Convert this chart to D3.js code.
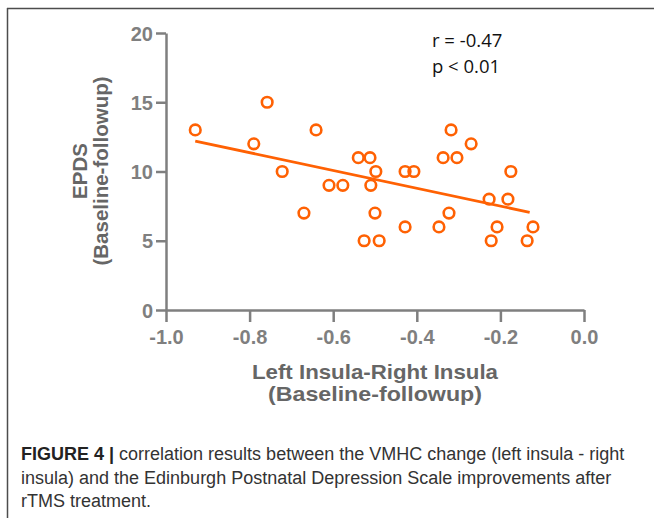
<!DOCTYPE html>
<html>
<head>
<meta charset="utf-8">
<script src="https://cdn.jsdelivr.net/npm/d3@7"></script>
<style>
  html, body { margin: 0; padding: 0; background: #fff; }
  svg { display: block; }
</style>
</head>
<body>
<div id="chart"></div>
<script>
// Scatter of insula VMHC change vs EPDS improvement, with fitted line
(function () {
  "use strict";

  // Data
  const insulaChange = [-0.93, -0.79, -0.758, -0.722, -0.641, -0.67, -0.61, -0.577, -0.54, -0.512,
    -0.498, -0.51, -0.5, -0.526, -0.49, -0.428, -0.428, -0.407, -0.347, -0.337,
    -0.323, -0.318, -0.304, -0.27, -0.227, -0.222, -0.208, -0.182, -0.175, -0.136, -0.122];
  const epdsChange = [13, 12, 15, 10, 13, 7, 9, 9, 11, 11,
    10, 9, 7, 5, 5, 6, 10, 10, 6, 11,
    7, 13, 11, 12, 8, 5, 6, 8, 10, 5, 6];

  // Fitted line end points
  const fitX = [-0.93, -0.13];
  const fitY = [12.2, 7.05];

  const xTicks = [-1.0, -0.8, -0.6, -0.4, -0.2, 0.0];
  const yTicks = [0, 5, 10, 15, 20];
  const statLines = ["r = -0.47", "p < 0.01"];

  const width = 654;
  const height = 518;
  const orange = "#ff6103";
  const axisGray = "#7f7f7f";
  const titleGray = "#666666";

  const svg = d3.select("#chart").append("svg")
    .attr("width", width)
    .attr("height", height);

  // Figure frame (top and left rules)
  svg.append("line").attr("x1", 7).attr("x2", width).attr("y1", 8.5).attr("y2", 8.5)
    .attr("stroke", "#4d4d4d").attr("stroke-width", 1.5);
  svg.append("line").attr("x1", 7.5).attr("x2", 7.5).attr("y1", 8).attr("y2", height)
    .attr("stroke", "#4d4d4d").attr("stroke-width", 1.5);

  const x = d3.scaleLinear().domain([-1, 0]).range([166, 584]);
  const y = d3.scaleLinear().domain([0, 20]).range([310, 33]);

  // Axes
  const xAxis = svg.append("g")
    .attr("transform", "translate(0,310)")
    .call(d3.axisBottom(x).tickValues(xTicks).tickFormat(d3.format(".1f")).tickSize(12).tickSizeOuter(0));
  const yAxis = svg.append("g")
    .attr("transform", "translate(166,0)")
    .call(d3.axisLeft(y).tickValues(yTicks).tickFormat(d3.format("d")).tickSize(10).tickSizeOuter(0));

  [xAxis, yAxis].forEach((ax) => {
    ax.select(".domain").attr("stroke", axisGray).attr("stroke-width", 2.5);
    ax.selectAll(".tick line").attr("stroke", axisGray).attr("stroke-width", 2.5);
    ax.selectAll(".tick text")
      .attr("fill", axisGray)
      .attr("font-family", "Liberation Sans, Arial, sans-serif")
      .attr("font-weight", "bold")
      .attr("font-size", 20);
  });
  xAxis.selectAll(".tick text").attr("y", 20).attr("dy", "0.71em")
    .text((d) => d3.format(".1f")(d).replace("−", "-"));
  yAxis.selectAll(".tick text").attr("x", -13).attr("dy", "0.36em");

  // Axis titles
  const titleFont = "Liberation Sans, Arial, sans-serif";
  const titleSize = 20.5;
  svg.append("text")
    .attr("x", 375).attr("y", 379)
    .attr("text-anchor", "middle")
    .attr("font-family", titleFont).attr("font-weight", "bold").attr("font-size", titleSize)
    .attr("textLength", 246).attr("lengthAdjust", "spacingAndGlyphs")
    .attr("fill", titleGray)
    .text("Left Insula-Right Insula");
  svg.append("text")
    .attr("x", 375).attr("y", 401)
    .attr("text-anchor", "middle")
    .attr("font-family", titleFont).attr("font-weight", "bold").attr("font-size", titleSize)
    .attr("textLength", 214).attr("lengthAdjust", "spacingAndGlyphs")
    .attr("fill", titleGray)
    .text("(Baseline-followup)");

  const yTitle = svg.append("g").attr("transform", "translate(0,171) rotate(-90)");
  yTitle.append("text")
    .attr("x", 0).attr("y", 87)
    .attr("text-anchor", "middle")
    .attr("font-family", titleFont).attr("font-weight", "bold").attr("font-size", titleSize)
    .attr("fill", titleGray)
    .text("EPDS");
  yTitle.append("text")
    .attr("x", 0).attr("y", 108)
    .attr("text-anchor", "middle")
    .attr("font-family", titleFont).attr("font-weight", "bold").attr("font-size", titleSize)
    .attr("fill", titleGray)
    .text("(Baseline-followup)");

  // Fitted line
  svg.append("line")
    .attr("x1", x(fitX[0])).attr("y1", y(fitY[0]))
    .attr("x2", x(fitX[1])).attr("y2", y(fitY[1]))
    .attr("stroke", orange).attr("stroke-width", 2.8);

  // Points
  svg.append("g").selectAll("circle")
    .data(insulaChange.map((v, i) => [v, epdsChange[i]]))
    .join("circle")
    .attr("cx", (d) => x(d[0]))
    .attr("cy", (d) => y(d[1]))
    .attr("r", 5.3)
    .attr("fill", "none")
    .attr("stroke", orange)
    .attr("stroke-width", 2.6);

  // Correlation annotation
  svg.append("g").selectAll("text")
    .data(statLines)
    .join("text")
    .attr("x", 432)
    .attr("y", (d, i) => 47 + i * 26)
    .attr("font-family", "Open Sans, Noto Sans, sans-serif")
    .attr("font-size", 18.5)
    .attr("fill", "#111")
    .attr("xml:space", "preserve")
    .text((d) => d);

  // Caption
  const capFont = "Liberation Sans, Arial, sans-serif";
  const caption = svg.append("g")
    .attr("font-family", capFont)
    .attr("font-size", 18)
    .attr("fill", "#333");
  const first = caption.append("text").attr("x", 21).attr("y", 460);
  first.append("tspan").attr("font-weight", "bold").attr("fill", "#222").text("FIGURE 4 | ");
  first.append("tspan").text("correlation results between the VMHC change (left insula - right");
  caption.append("text").attr("x", 21).attr("y", 484)
    .text("insula) and the Edinburgh Postnatal Depression Scale improvements after");
  caption.append("text").attr("x", 21).attr("y", 507)
    .text("rTMS treatment.");
})();
</script>
</body>
</html>
